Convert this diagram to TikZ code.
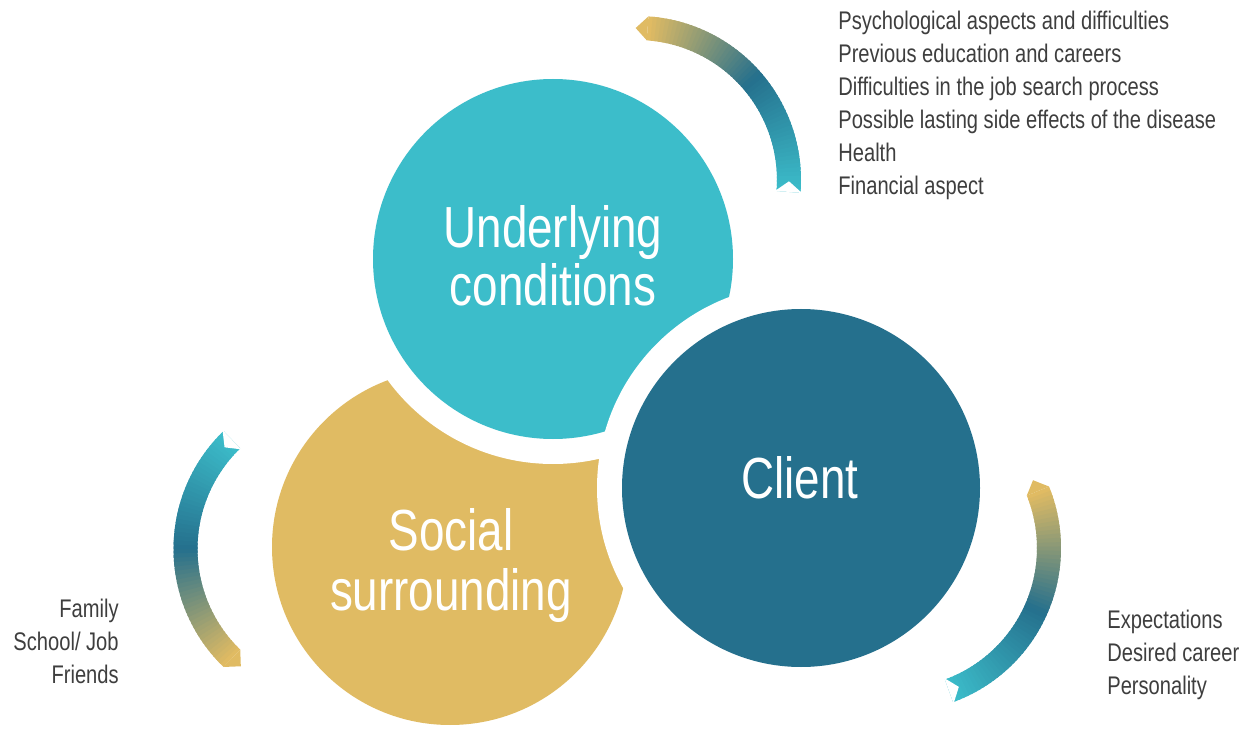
\documentclass[tikz,border=0pt]{standalone}
\usepackage{fontspec}
\setmainfont{Liberation Sans}
\newfontfamily\cond[FakeStretch=0.79]{Liberation Sans}
\definecolor{cyanc}{HTML}{3CBDCA}
\definecolor{dblue}{HTML}{25708D}
\definecolor{goldc}{HTML}{E0BB63}
\definecolor{txt}{HTML}{3E3E3E}
\tikzset{
  bigtxt/.style={text=white, font=\cond\fontsize{33}{33}\selectfont, align=center, inner sep=0pt},
  listtxt/.style={text=txt, font=\cond\fontsize{14.5}{18.7}\selectfont, inner sep=0pt},
  halo/.style={fill=white},
}
% ribbon: center x, center y, head angle, tail angle (clockwise from head to tail)
\newcommand\myribbon[4]{%
  \begin{scope}[shift={(#1,#2)}]
    \foreach \i in {0,...,59}{
      \pgfmathsetmacro\ta{#3+(#4-#3)*\i/60}
      \pgfmathsetmacro\tb{#3+(#4-#3)*min(\i+1.6,60)/60}
      \ifnum\i<30
        \pgfmathsetmacro\pp{200*\i/59}
        \colorlet{rc}{dblue!\pp!goldc}
      \else
        \pgfmathsetmacro\pp{200*(\i/59-0.5)}
        \colorlet{rc}{cyanc!\pp!dblue}
      \fi
      \fill[rc] (\ta:140) -- (\ta:164) arc[start angle=\ta, end angle=\tb, radius=164]
        -- (\tb:140) arc[start angle=\tb, end angle=\ta, radius=140] -- cycle;
    }
    \fill[goldc] (#3:140) -- (#3+4.5:152) -- (#3:164) -- cycle;
    \fill[white] (#4:138.5) -- (#4+4:152) -- (#4:165.5) -- cycle;
  \end{scope}
}
\begin{document}
\begin{tikzpicture}[x=0.02cm,y=0.02cm]
\useasboundingbox (0,0) rectangle (1242,728);
% circles
\fill[goldc] (450,181) circle[radius=178];
\fill[halo] (553,469) circle[radius=205];
\fill[cyanc] (553,469) circle[radius=180];
\fill[halo] (801,240) circle[radius=204];
\fill[dblue] (801,240) circle[radius=179];
% ribbons
\myribbon{637}{548}{86}{-4.5}
\myribbon{337.5}{179}{226}{134}
\myribbon{897}{180}{22}{-70}
% circle labels (base = baseline of last line)
\node[bigtxt, anchor=base] (uc) at (553,423) {Underlying\\conditions};
\node[bigtxt, anchor=base] (cl) at (800,230) {Client};
\node[bigtxt, anchor=base] (ss) at (451,118) {Social\\[1pt]surrounding};
% lists
\node[listtxt, anchor=base west, align=left] (l1) at (838,534) {Psychological aspects and difficulties\\Previous education and careers\\Difficulties in the job search process\\Possible lasting side effects of the disease\\Health\\Financial aspect};
\node[listtxt, anchor=base east, align=right] (l2) at (119,45) {Family\\School/ Job\\Friends};
\node[listtxt, anchor=base west, align=left] (l3) at (1107,34) {Expectations\\Desired career\\Personality};
\end{tikzpicture}
\end{document}
